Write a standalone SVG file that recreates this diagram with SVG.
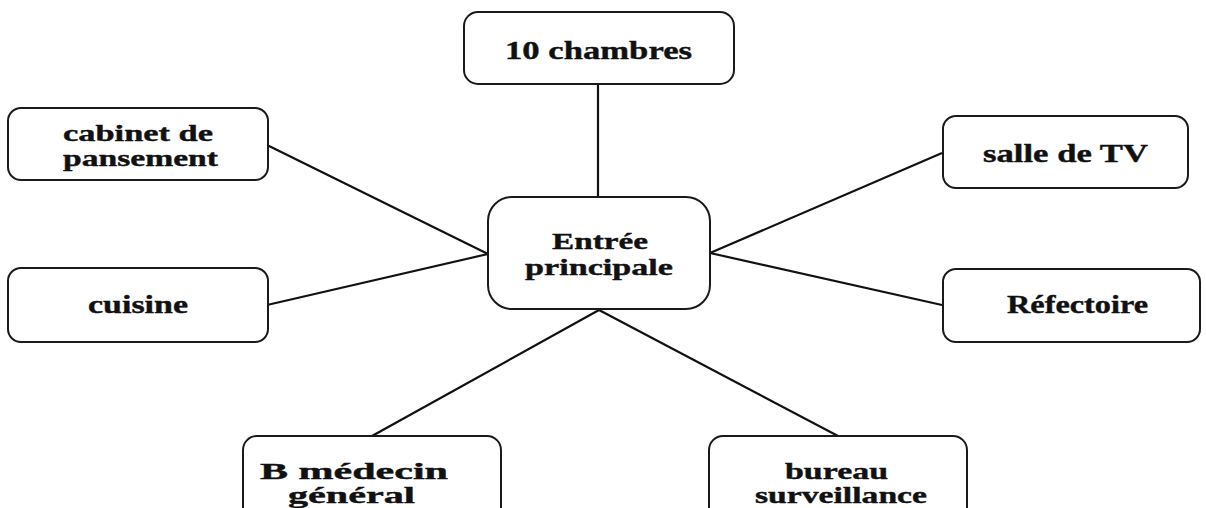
<svg xmlns="http://www.w3.org/2000/svg" width="1206" height="508" viewBox="0 0 1206 508">
<style>
.box{fill:#fff;stroke:#1a1a1a;stroke-width:2}
.lbl{font-family:"Liberation Serif","Times New Roman",serif;font-weight:bold;font-size:26px;fill:#111;stroke:#111;stroke-width:0.4;text-anchor:middle}
.two{font-size:24px}
.sm{font-size:23px}
.conn{stroke:#111;stroke-width:2.2;fill:none}
</style>
<rect width="1206" height="508" fill="#fff"/>
<g id="connectors">
<line class="conn" x1="598" y1="84" x2="598" y2="197"/>
<line class="conn" x1="267" y1="145" x2="488" y2="254"/>
<line class="conn" x1="267" y1="305" x2="488" y2="254"/>
<line class="conn" x1="942" y1="153" x2="710" y2="253"/>
<line class="conn" x1="942" y1="305" x2="710" y2="253"/>
<line class="conn" x1="599" y1="310" x2="372" y2="436"/>
<line class="conn" x1="599" y1="310" x2="838" y2="436"/>
</g>
<g id="n-chambres">
<rect class="box" x="464" y="12" width="270" height="72" rx="14"/>
<text class="lbl" x="598.5" y="59" textLength="187" lengthAdjust="spacingAndGlyphs">10 chambres</text>
</g>
<g id="n-cabinet">
<rect class="box" x="8" y="108" width="260" height="72" rx="13"/>
<text class="lbl two" x="138" y="141" textLength="150" lengthAdjust="spacingAndGlyphs">cabinet de</text>
<text class="lbl two" x="140.5" y="166" textLength="155" lengthAdjust="spacingAndGlyphs">pansement</text>
</g>
<g id="n-cuisine">
<rect class="box" x="8" y="268" width="260" height="74" rx="13"/>
<text class="lbl" x="138" y="313" textLength="100" lengthAdjust="spacingAndGlyphs">cuisine</text>
</g>
<g id="n-entree">
<rect class="box" x="488" y="197" width="222" height="112" rx="24"/>
<text class="lbl two" x="600" y="249" textLength="96" lengthAdjust="spacingAndGlyphs">Entrée</text>
<text class="lbl two" x="599" y="275" textLength="148" lengthAdjust="spacingAndGlyphs">principale</text>
</g>
<g id="n-tv">
<rect class="box" x="943" y="116" width="245" height="72" rx="13"/>
<text class="lbl" x="1065.5" y="162" textLength="165" lengthAdjust="spacingAndGlyphs">salle de TV</text>
</g>
<g id="n-refectoire">
<rect class="box" x="943" y="269" width="257" height="73" rx="13"/>
<text class="lbl" x="1077.5" y="313" textLength="141" lengthAdjust="spacingAndGlyphs">Réfectoire</text>
</g>
<g id="n-medecin">
<rect class="box" x="243" y="436" width="258" height="100" rx="14"/>
<text class="lbl sm" x="354" y="479" textLength="188" lengthAdjust="spacingAndGlyphs">B médecin</text>
<text class="lbl sm" x="351.5" y="503" textLength="127" lengthAdjust="spacingAndGlyphs">général</text>
</g>
<g id="n-bureau">
<rect class="box" x="709" y="436" width="258" height="100" rx="14"/>
<text class="lbl sm" x="836.5" y="479" textLength="103" lengthAdjust="spacingAndGlyphs">bureau</text>
<text class="lbl sm" x="841" y="503" textLength="172" lengthAdjust="spacingAndGlyphs">surveillance</text>
</g>
</svg>
